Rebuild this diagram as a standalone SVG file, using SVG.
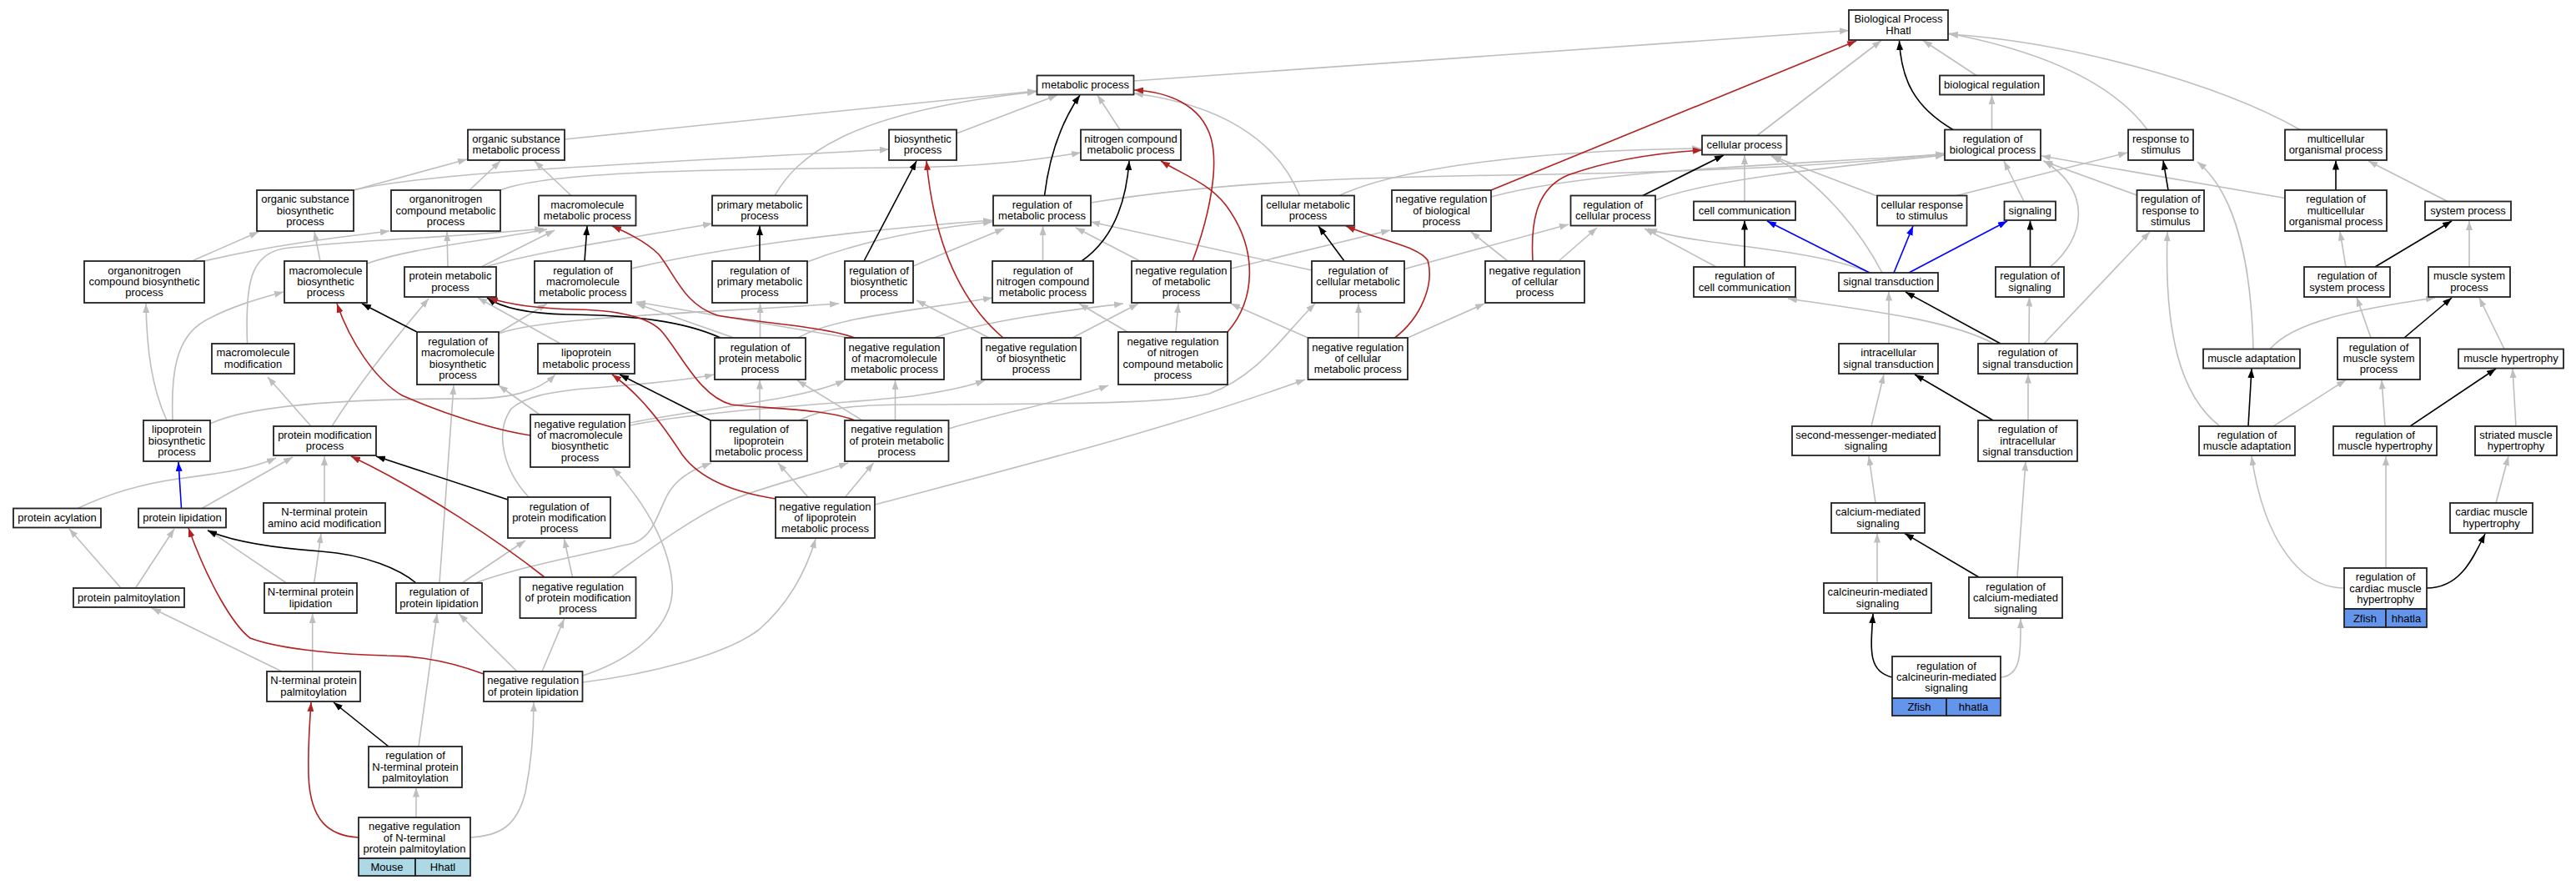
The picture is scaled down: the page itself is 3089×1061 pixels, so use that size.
<svg xmlns="http://www.w3.org/2000/svg" width="3089" height="1061" viewBox="0 0 3089 1061">
<style>
.bg{fill:#fff}
.e{fill:none;stroke-width:1.6}
.g{stroke:#bebebe;marker-end:url(#ag)}
.k{stroke:#000;marker-end:url(#ak)}
.r{stroke:#b22222;marker-end:url(#ar)}
.b{stroke:#0000ff;marker-end:url(#ab)}
.n rect{fill:#fff;stroke:#222;stroke-width:1.8}
.n rect.m{fill:#add8e6}
.n rect.z{fill:#6495ed}
text{font-family:"Liberation Sans",Arial,sans-serif;font-size:13px;text-anchor:middle;fill:#000}
</style>
<defs>
<marker id="ag" viewBox="0 0 11 8" refX="11" refY="4" markerWidth="11" markerHeight="8" markerUnits="userSpaceOnUse" orient="auto"><path d="M0,0L11,4L0,8z" fill="#bebebe"/></marker>
<marker id="ak" viewBox="0 0 11 8" refX="11" refY="4" markerWidth="11" markerHeight="8" markerUnits="userSpaceOnUse" orient="auto"><path d="M0,0L11,4L0,8z" fill="#000"/></marker>
<marker id="ar" viewBox="0 0 11 8" refX="11" refY="4" markerWidth="11" markerHeight="8" markerUnits="userSpaceOnUse" orient="auto"><path d="M0,0L11,4L0,8z" fill="#b22222"/></marker>
<marker id="ab" viewBox="0 0 11 8" refX="11" refY="4" markerWidth="11" markerHeight="8" markerUnits="userSpaceOnUse" orient="auto"><path d="M0,0L11,4L0,8z" fill="#0000ff"/></marker>
</defs>
<rect class="bg" x="0" y="0" width="3089" height="1061"/>
<g id="connectors">
<path class="e g" d="M1359.5,97 L2217,36.5"/>
<path class="e g" d="M2107,162.5 L2256,48.5"/>
<path class="e g" d="M2370,90.5 L2306,48.5"/>
<path class="e g" d="M2575,155.5 C2530,95 2440,60 2337,40"/>
<path class="e g" d="M2758,155.5 C2660,100 2480,50 2337,41"/>
<path class="e g" d="M2388.5,155.5 L2388.5,114"/>
<path class="e g" d="M677,167 L1243,109"/>
<path class="e g" d="M929,234.5 C955,190 1010,135 1243,110"/>
<path class="e g" d="M1147,160 L1268,114"/>
<path class="e g" d="M1343,155.5 L1316,114"/>
<path class="e g" d="M1558.5,234.5 C1530,165 1460,125 1360,112"/>
<path class="e g" d="M424,228 L560,191"/>
<path class="e g" d="M563,228 L600,193"/>
<path class="e g" d="M685,234.5 L641,193"/>
<path class="e g" d="M424,228 C520,205 800,195 1066,179"/>
<path class="e g" d="M600,228 C650,208 800,203 1080,201 C1180,200 1240,192 1296,183"/>
<path class="e g" d="M1606,234.5 C1680,200 1850,180 2040,178"/>
<path class="e g" d="M2092,241.5 L2092,186"/>
<path class="e g" d="M2251,235 L2125,187"/>
<path class="e g" d="M2257,327 C2230,275 2180,215 2124,187"/>
<path class="e g" d="M1308,243 C1450,220 1600,213 1800,210 C2000,207 2200,200 2332,184"/>
<path class="e g" d="M1788,236 C1900,205 2100,200 2332,185"/>
<path class="e g" d="M1985,240 C2050,215 2200,200 2332,186"/>
<path class="e g" d="M2427,241.5 L2403,193"/>
<path class="e g" d="M2458.5,320 C2500,285 2510,230 2451,193"/>
<path class="e g" d="M2562.5,234 L2450,193"/>
<path class="e g" d="M2740,237.5 L2448,187"/>
<path class="e g" d="M2346,234.5 L2551,183"/>
<path class="e g" d="M2702,418.5 C2700,330 2685,235 2635,194"/>
<path class="e g" d="M2935,241.5 L2840,193"/>
<path class="e g" d="M2961,320 L2961,265"/>
<path class="e g" d="M2813,320 L2806,277.5"/>
<path class="e g" d="M2843,405 L2826,356.5"/>
<path class="e g" d="M2722,418.5 C2750,385 2830,370 2920,357"/>
<path class="e g" d="M3003,418.5 L2973,357"/>
<path class="e g" d="M2726,511 L2813,455.5"/>
<path class="e g" d="M2860,511 L2856,455.5"/>
<path class="e g" d="M3017,511 L3013,442"/>
<path class="e g" d="M2662,511 C2615,475 2595,400 2599,278"/>
<path class="e g" d="M2811,705 C2760,705 2715,650 2700,547"/>
<path class="e g" d="M2861,681 L2861,547"/>
<path class="e g" d="M2993,603 L3008,547"/>
<path class="e g" d="M2242,327 C2170,296 2030,295 1976,274"/>
<path class="e g" d="M2058,320 L1972,274"/>
<path class="e g" d="M2265,412 L2265,349.5"/>
<path class="e g" d="M2433,412 L2433.5,356.5"/>
<path class="e g" d="M2391,412 C2340,385 2260,375 2144,358"/>
<path class="e g" d="M2451,412 L2578,278"/>
<path class="e g" d="M2244,511 L2259,449"/>
<path class="e g" d="M2432,504 L2432,448.5"/>
<path class="e g" d="M2249,603 L2241,547"/>
<path class="e g" d="M2419,692 L2429,553.5"/>
<path class="e g" d="M2251,699 L2251,639.5"/>
<path class="e g" d="M2399,812 C2425,810 2423,780 2423,742"/>
<path class="e g" d="M230,313 L310,278"/>
<path class="e g" d="M245,313 C320,295 400,285 467,277"/>
<path class="e g" d="M384,313 L377,278"/>
<path class="e g" d="M440,316 C490,298 560,292 656,275"/>
<path class="e g" d="M296.5,412 C294,340 300,305 340,298 C420,288 540,285 652,274"/>
<path class="e g" d="M537,320 L536,278"/>
<path class="e g" d="M577,320 L665,276"/>
<path class="e g" d="M582,320 C650,300 760,285 854,268"/>
<path class="e g" d="M757,322 C850,300 1000,278 1190,264"/>
<path class="e g" d="M968,314 C1030,290 1100,275 1190,266"/>
<path class="e g" d="M1095,319 L1204,274"/>
<path class="e g" d="M1250.5,313 L1250.5,271"/>
<path class="e g" d="M1367,313 L1290,273"/>
<path class="e g" d="M1476,322 L1667,276"/>
<path class="e g" d="M1573,324 L1308,266"/>
<path class="e g" d="M1684,322.5 L1881,269"/>
<path class="e g" d="M1808,313 L1764,278"/>
<path class="e g" d="M1869,313 L1915,273"/>
<path class="e g" d="M598,399 L656,364"/>
<path class="e g" d="M598,400 C650,380 850,375 1006,364"/>
<path class="e g" d="M672,412 L573,357"/>
<path class="e g" d="M880,405 L763,364"/>
<path class="e g" d="M911.5,405 L911.5,364"/>
<path class="e g" d="M957,405 C1000,380 1100,372 1190,357"/>
<path class="e g" d="M1018,405 L763,362"/>
<path class="e g" d="M1120,405 C1200,380 1300,370 1347,364"/>
<path class="e g" d="M1186,405 L1099,360"/>
<path class="e g" d="M1286,405 L1365,364"/>
<path class="e g" d="M1352,398 L1294,364"/>
<path class="e g" d="M1410,398 L1413,364"/>
<path class="e g" d="M1568.5,405 L1476,364"/>
<path class="e g" d="M1629,405 L1629,364"/>
<path class="e g" d="M1688,405 L1780,364"/>
<path class="e g" d="M200,504 C182,465 176,420 175,364"/>
<path class="e g" d="M207,504 C205,450 210,405 245,385 C275,368 310,358 340,350"/>
<path class="e g" d="M252,508 C300,485 420,478 560,478 C610,478 645,470 666,449"/>
<path class="e g" d="M373,511 L321,452"/>
<path class="e g" d="M398,511 C430,460 470,410 514,358"/>
<path class="e g" d="M647,497 L598,462"/>
<path class="e g" d="M755,507 C850,488 960,480 1013,456"/>
<path class="e g" d="M755,510 C850,490 1050,482 1100,474 C1140,468 1165,462 1181,456"/>
<path class="e g" d="M911,504 L911,455.5"/>
<path class="e g" d="M958,504 C990,488 1030,485 1100,485 C1250,484 1400,485 1450,472 C1510,450 1540,400 1577,364"/>
<path class="e g" d="M1034,504 L956,456"/>
<path class="e g" d="M1073.5,504 L1073.5,456"/>
<path class="e g" d="M1137.5,514 C1200,495 1280,480 1329,462"/>
<path class="e g" d="M93,609.5 C130,592 170,580 214,574 C260,568 300,563 331,549"/>
<path class="e g" d="M242,609.5 L351,548"/>
<path class="e g" d="M389,603 L389,547"/>
<path class="e g" d="M634,596 C605,565 592,520 613,490 C630,475 660,470 700,466 C780,460 830,455 856,449"/>
<path class="e g" d="M969,596 L933,555"/>
<path class="e g" d="M1013.5,596 L1047.5,555"/>
<path class="e g" d="M1049,605 C1200,565 1400,515 1565,455"/>
<path class="e g" d="M145,705 L83,634"/>
<path class="e g" d="M162.5,705 L209,634"/>
<path class="e g" d="M343.5,699 L249,635"/>
<path class="e g" d="M376.7,699 L385,640"/>
<path class="e g" d="M554,699 L630,648"/>
<path class="e g" d="M527,699 L544,462"/>
<path class="e g" d="M570,699 C620,680 700,665 760,651 C790,640 790,600 810,580 C825,565 840,560 853,555"/>
<path class="e g" d="M686.5,692 L676.5,646"/>
<path class="e g" d="M733,692 C790,650 840,615 881,598 C920,582 980,568 1017,555"/>
<path class="e g" d="M338,805 L182,729"/>
<path class="e g" d="M374.7,805 L374.7,736"/>
<path class="e g" d="M620,805 L550.5,736"/>
<path class="e g" d="M650,805 L676.5,742"/>
<path class="e g" d="M698.5,810 C760,790 810,750 806,700 C803,660 780,610 735,561"/>
<path class="e g" d="M698.5,818 C780,808 870,785 910,755 C950,720 968,680 978,646"/>
<path class="e g" d="M502,895 L524,736"/>
<path class="e g" d="M499,980 L499,944.5"/>
<path class="e g" d="M564,1004 C600,1002 620,990 630,950 C638,910 640,870 640,842"/>
<path class="e k" d="M2342,155.5 C2295,128 2280,95 2277.5,49"/>
<path class="e k" d="M1252.5,234.5 C1258,190 1270,150 1295,114"/>
<path class="e k" d="M1297,313 C1330,290 1350,250 1354,193"/>
<path class="e k" d="M1036,313 L1099,193"/>
<path class="e k" d="M1970,234.5 L2067,186"/>
<path class="e k" d="M2600,228 L2594,192.5"/>
<path class="e k" d="M2801,228 L2801,192.5"/>
<path class="e k" d="M2848,320 L2940,265"/>
<path class="e k" d="M2883,405 L2940,357"/>
<path class="e k" d="M2696,511 L2700,442"/>
<path class="e k" d="M2890,511 L2993,442"/>
<path class="e k" d="M2910,705 C2950,705 2965,670 2980,640"/>
<path class="e k" d="M2092,320 L2092,264.5"/>
<path class="e k" d="M2434.5,320 L2434.5,264.5"/>
<path class="e k" d="M2399,412 L2285,350"/>
<path class="e k" d="M2390,504 L2296,449"/>
<path class="e k" d="M2373,692 L2284,639.5"/>
<path class="e k" d="M2269,812 C2240,805 2243,780 2246,736"/>
<path class="e k" d="M701,313 L704,271"/>
<path class="e k" d="M911,313 L911,271"/>
<path class="e k" d="M1612,313 L1581,271"/>
<path class="e k" d="M500,398 L434,364"/>
<path class="e k" d="M864,405 C820,385 760,378 680,377 C630,376 600,368 584,357"/>
<path class="e k" d="M852,504 L743,449"/>
<path class="e k" d="M609,599 L451,547"/>
<path class="e k" d="M499,699 C480,683 440,665 385,661 C330,657 280,650 249,636"/>
<path class="e k" d="M466,895 L400,842"/>
<path class="e r" d="M1788,228 L2226,49"/>
<path class="e r" d="M1430,313 C1450,260 1462,200 1452,165 C1440,125 1400,110 1360,108"/>
<path class="e r" d="M1203,405 C1150,360 1120,290 1111,193"/>
<path class="e r" d="M1472,398 C1505,360 1510,300 1470,246 C1450,220 1420,210 1392,193"/>
<path class="e r" d="M1838,313 C1835,260 1845,225 1880,210 C1930,192 1990,183 2041,180"/>
<path class="e r" d="M1672.5,405 C1705,380 1720,340 1712,312 C1700,295 1660,290 1614,271"/>
<path class="e r" d="M1025,405 C990,392 920,388 860,378 C820,365 810,330 790,305 C775,290 755,280 734,271"/>
<path class="e r" d="M636,522 C590,515 530,495 482,474 C450,455 420,410 404,364"/>
<path class="e r" d="M1025,504 C990,490 920,490 877,485 C840,475 820,430 795,399 C780,380 740,372 691,371 C650,370 610,365 586,357"/>
<path class="e r" d="M930,598 C880,590 840,575 818,545 C795,510 770,475 734,449"/>
<path class="e r" d="M653,692 C600,650 510,590 421,547"/>
<path class="e r" d="M580,808 C540,793 500,786 464,786 C420,785 340,780 300,765 C280,750 250,700 226,633"/>
<path class="e r" d="M430,1004 C395,1002 372,985 370,930 C369,890 372,860 373,842"/>
<path class="e b" d="M217.5,609.5 L214,554"/>
<path class="e b" d="M2242,327 L2119,265"/>
<path class="e b" d="M2271,327 L2294,271"/>
<path class="e b" d="M2289,327 L2407,265"/>
</g>
<g id="n1" class="n"><rect x="2217" y="12" width="119" height="36"/><text x="2276.5" y="27.4"><tspan x="2276.5">Biological Process</tspan><tspan x="2276.5" dy="13.3">Hhatl</tspan></text></g>
<g id="n2" class="n"><rect x="1243.5" y="90.5" width="116" height="23"/><text x="1301.5" y="106">metabolic process</text></g>
<g id="n3" class="n"><rect x="2326" y="90.5" width="125" height="23"/><text x="2388.5" y="106">biological regulation</text></g>
<g id="n4" class="n"><rect x="561" y="155.5" width="116" height="36.5"/><text y="171.1"><tspan x="619">organic substance</tspan><tspan x="619" dy="13.3">metabolic process</tspan></text></g>
<g id="n5" class="n"><rect x="1066" y="155.5" width="81" height="36.5"/><text y="171.1"><tspan x="1106.5">biosynthetic</tspan><tspan x="1106.5" dy="13.3">process</tspan></text></g>
<g id="n6" class="n"><rect x="1296" y="155.5" width="120" height="36.5"/><text y="171.1"><tspan x="1356">nitrogen compound</tspan><tspan x="1356" dy="13.3">metabolic process</tspan></text></g>
<g id="n7" class="n"><rect x="2041" y="162.5" width="101.5" height="23"/><text x="2091.75" y="178">cellular process</text></g>
<g id="n8" class="n"><rect x="2332" y="155.5" width="115" height="36.5"/><text y="171.1"><tspan x="2389.5">regulation of</tspan><tspan x="2389.5" dy="13.3">biological process</tspan></text></g>
<g id="n9" class="n"><rect x="2552" y="155.5" width="78" height="36.5"/><text y="171.1"><tspan x="2591">response to</tspan><tspan x="2591" dy="13.3">stimulus</tspan></text></g>
<g id="n10" class="n"><rect x="2740" y="155.5" width="122" height="36.5"/><text y="171.1"><tspan x="2801">multicellular</tspan><tspan x="2801" dy="13.3">organismal process</tspan></text></g>
<g id="n11" class="n"><rect x="308" y="228" width="116" height="49"/><text y="243.2"><tspan x="366">organic substance</tspan><tspan x="366" dy="13.3">biosynthetic</tspan><tspan x="366" dy="13.3">process</tspan></text></g>
<g id="n12" class="n"><rect x="469" y="228" width="131" height="49"/><text y="243.2"><tspan x="534.5">organonitrogen</tspan><tspan x="534.5" dy="13.3">compound metabolic</tspan><tspan x="534.5" dy="13.3">process</tspan></text></g>
<g id="n13" class="n"><rect x="646" y="234.5" width="116.5" height="36"/><text y="249.9"><tspan x="704.25">macromolecule</tspan><tspan x="704.25" dy="13.3">metabolic process</tspan></text></g>
<g id="n14" class="n"><rect x="854" y="234.5" width="114" height="36"/><text y="249.9"><tspan x="911">primary metabolic</tspan><tspan x="911" dy="13.3">process</tspan></text></g>
<g id="n15" class="n"><rect x="1191" y="234.5" width="117" height="36"/><text y="249.9"><tspan x="1249.5">regulation of</tspan><tspan x="1249.5" dy="13.3">metabolic process</tspan></text></g>
<g id="n16" class="n"><rect x="1513" y="234.5" width="111" height="36"/><text y="249.9"><tspan x="1568.5">cellular metabolic</tspan><tspan x="1568.5" dy="13.3">process</tspan></text></g>
<g id="n17" class="n"><rect x="1669" y="228" width="119" height="49"/><text y="243.2"><tspan x="1728.5">negative regulation</tspan><tspan x="1728.5" dy="13.3">of biological</tspan><tspan x="1728.5" dy="13.3">process</tspan></text></g>
<g id="n18" class="n"><rect x="1883.5" y="234.5" width="101.5" height="36"/><text y="249.9"><tspan x="1934.25">regulation of</tspan><tspan x="1934.25" dy="13.3">cellular process</tspan></text></g>
<g id="n19" class="n"><rect x="2031" y="241.5" width="122" height="22.5"/><text x="2092" y="256.5">cell communication</text></g>
<g id="n20" class="n"><rect x="2251" y="234.5" width="107.5" height="36"/><text y="249.9"><tspan x="2304.75">cellular response</tspan><tspan x="2304.75" dy="13.3">to stimulus</tspan></text></g>
<g id="n21" class="n"><rect x="2403.5" y="241.5" width="61.5" height="22.5"/><text x="2434.25" y="256.5">signaling</text></g>
<g id="n22" class="n"><rect x="2562.5" y="228" width="80.5" height="49"/><text y="243.2"><tspan x="2602.75">regulation of</tspan><tspan x="2602.75" dy="13.3">response to</tspan><tspan x="2602.75" dy="13.3">stimulus</tspan></text></g>
<g id="n23" class="n"><rect x="2740" y="228" width="122" height="49"/><text y="243.2"><tspan x="2801">regulation of</tspan><tspan x="2801" dy="13.3">multicellular</tspan><tspan x="2801" dy="13.3">organismal process</tspan></text></g>
<g id="n24" class="n"><rect x="2908" y="241.5" width="103" height="22.5"/><text x="2959.5" y="256.5">system process</text></g>
<g id="n25" class="n"><rect x="101" y="313" width="144" height="50"/><text y="328.7"><tspan x="173">organonitrogen</tspan><tspan x="173" dy="13.3">compound biosynthetic</tspan><tspan x="173" dy="13.3">process</tspan></text></g>
<g id="n26" class="n"><rect x="341" y="313" width="99" height="50"/><text y="328.7"><tspan x="390.5">macromolecule</tspan><tspan x="390.5" dy="13.3">biosynthetic</tspan><tspan x="390.5" dy="13.3">process</tspan></text></g>
<g id="n27" class="n"><rect x="485" y="320" width="110" height="36"/><text y="335.4"><tspan x="540">protein metabolic</tspan><tspan x="540" dy="13.3">process</tspan></text></g>
<g id="n28" class="n"><rect x="641" y="313" width="116" height="50"/><text y="328.7"><tspan x="699">regulation of</tspan><tspan x="699" dy="13.3">macromolecule</tspan><tspan x="699" dy="13.3">metabolic process</tspan></text></g>
<g id="n29" class="n"><rect x="854" y="313" width="114" height="50"/><text y="328.7"><tspan x="911">regulation of</tspan><tspan x="911" dy="13.3">primary metabolic</tspan><tspan x="911" dy="13.3">process</tspan></text></g>
<g id="n30" class="n"><rect x="1013" y="313" width="82" height="50"/><text y="328.7"><tspan x="1054">regulation of</tspan><tspan x="1054" dy="13.3">biosynthetic</tspan><tspan x="1054" dy="13.3">process</tspan></text></g>
<g id="n31" class="n"><rect x="1190" y="313" width="121" height="50"/><text y="328.7"><tspan x="1250.5">regulation of</tspan><tspan x="1250.5" dy="13.3">nitrogen compound</tspan><tspan x="1250.5" dy="13.3">metabolic process</tspan></text></g>
<g id="n32" class="n"><rect x="1357" y="313" width="119" height="50"/><text y="328.7"><tspan x="1416.5">negative regulation</tspan><tspan x="1416.5" dy="13.3">of metabolic</tspan><tspan x="1416.5" dy="13.3">process</tspan></text></g>
<g id="n33" class="n"><rect x="1573" y="313" width="111" height="50"/><text y="328.7"><tspan x="1628.5">regulation of</tspan><tspan x="1628.5" dy="13.3">cellular metabolic</tspan><tspan x="1628.5" dy="13.3">process</tspan></text></g>
<g id="n34" class="n"><rect x="1781" y="313" width="119" height="50"/><text y="328.7"><tspan x="1840.5">negative regulation</tspan><tspan x="1840.5" dy="13.3">of cellular</tspan><tspan x="1840.5" dy="13.3">process</tspan></text></g>
<g id="n35" class="n"><rect x="2031" y="320" width="122" height="36"/><text y="335.4"><tspan x="2092">regulation of</tspan><tspan x="2092" dy="13.3">cell communication</tspan></text></g>
<g id="n36" class="n"><rect x="2205" y="327" width="119" height="22"/><text x="2264.5" y="342">signal transduction</text></g>
<g id="n37" class="n"><rect x="2393" y="320" width="82" height="36"/><text y="335.4"><tspan x="2434">regulation of</tspan><tspan x="2434" dy="13.3">signaling</tspan></text></g>
<g id="n38" class="n"><rect x="2763" y="320" width="103" height="36"/><text y="335.4"><tspan x="2814.5">regulation of</tspan><tspan x="2814.5" dy="13.3">system process</tspan></text></g>
<g id="n39" class="n"><rect x="2912" y="320" width="98" height="36"/><text y="335.4"><tspan x="2961">muscle system</tspan><tspan x="2961" dy="13.3">process</tspan></text></g>
<g id="n40" class="n"><rect x="254" y="412" width="99" height="36"/><text y="427.4"><tspan x="303.5">macromolecule</tspan><tspan x="303.5" dy="13.3">modification</tspan></text></g>
<g id="n41" class="n"><rect x="500" y="398" width="98" height="63"/><text y="414.1"><tspan x="549">regulation of</tspan><tspan x="549" dy="13.3">macromolecule</tspan><tspan x="549" dy="13.3">biosynthetic</tspan><tspan x="549" dy="13.3">process</tspan></text></g>
<g id="n42" class="n"><rect x="645" y="412" width="116" height="36"/><text y="427.4"><tspan x="703">lipoprotein</tspan><tspan x="703" dy="13.3">metabolic process</tspan></text></g>
<g id="n43" class="n"><rect x="857" y="405" width="109" height="50"/><text y="420.7"><tspan x="911.5">regulation of</tspan><tspan x="911.5" dy="13.3">protein metabolic</tspan><tspan x="911.5" dy="13.3">process</tspan></text></g>
<g id="n44" class="n"><rect x="1013" y="405" width="119" height="50"/><text y="420.7"><tspan x="1072.5">negative regulation</tspan><tspan x="1072.5" dy="13.3">of macromolecule</tspan><tspan x="1072.5" dy="13.3">metabolic process</tspan></text></g>
<g id="n45" class="n"><rect x="1177" y="405" width="119" height="50"/><text y="420.7"><tspan x="1236.5">negative regulation</tspan><tspan x="1236.5" dy="13.3">of biosynthetic</tspan><tspan x="1236.5" dy="13.3">process</tspan></text></g>
<g id="n46" class="n"><rect x="1341" y="398" width="131" height="63"/><text y="414.1"><tspan x="1406.5">negative regulation</tspan><tspan x="1406.5" dy="13.3">of nitrogen</tspan><tspan x="1406.5" dy="13.3">compound metabolic</tspan><tspan x="1406.5" dy="13.3">process</tspan></text></g>
<g id="n47" class="n"><rect x="1568.5" y="405" width="119.5" height="50"/><text y="420.7"><tspan x="1628.25">negative regulation</tspan><tspan x="1628.25" dy="13.3">of cellular</tspan><tspan x="1628.25" dy="13.3">metabolic process</tspan></text></g>
<g id="n48" class="n"><rect x="2205" y="412" width="119" height="36"/><text y="427.4"><tspan x="2264.5">intracellular</tspan><tspan x="2264.5" dy="13.3">signal transduction</tspan></text></g>
<g id="n49" class="n"><rect x="2372" y="412" width="119" height="36"/><text y="427.4"><tspan x="2431.5">regulation of</tspan><tspan x="2431.5" dy="13.3">signal transduction</tspan></text></g>
<g id="n50" class="n"><rect x="2642" y="418.5" width="116" height="23"/><text x="2700" y="434">muscle adaptation</text></g>
<g id="n51" class="n"><rect x="2803" y="405" width="99" height="50"/><text y="420.7"><tspan x="2852.5">regulation of</tspan><tspan x="2852.5" dy="13.3">muscle system</tspan><tspan x="2852.5" dy="13.3">process</tspan></text></g>
<g id="n52" class="n"><rect x="2948" y="418.5" width="126" height="23"/><text x="3011" y="434">muscle hypertrophy</text></g>
<g id="n53" class="n"><rect x="172" y="504" width="80" height="49"/><text y="519.2"><tspan x="212">lipoprotein</tspan><tspan x="212" dy="13.3">biosynthetic</tspan><tspan x="212" dy="13.3">process</tspan></text></g>
<g id="n54" class="n"><rect x="328" y="511" width="123" height="35"/><text y="525.9"><tspan x="389.5">protein modification</tspan><tspan x="389.5" dy="13.3">process</tspan></text></g>
<g id="n55" class="n"><rect x="636" y="497" width="119" height="63"/><text y="512.6"><tspan x="695.5">negative regulation</tspan><tspan x="695.5" dy="13.3">of macromolecule</tspan><tspan x="695.5" dy="13.3">biosynthetic</tspan><tspan x="695.5" dy="13.3">process</tspan></text></g>
<g id="n56" class="n"><rect x="852" y="504" width="116" height="49"/><text y="519.2"><tspan x="910">regulation of</tspan><tspan x="910" dy="13.3">lipoprotein</tspan><tspan x="910" dy="13.3">metabolic process</tspan></text></g>
<g id="n57" class="n"><rect x="1013" y="504" width="124.5" height="49"/><text y="519.2"><tspan x="1075.25">negative regulation</tspan><tspan x="1075.25" dy="13.3">of protein metabolic</tspan><tspan x="1075.25" dy="13.3">process</tspan></text></g>
<g id="n58" class="n"><rect x="2149" y="511" width="177" height="35"/><text y="525.9"><tspan x="2237.5">second-messenger-mediated</tspan><tspan x="2237.5" dy="13.3">signaling</tspan></text></g>
<g id="n59" class="n"><rect x="2372" y="504" width="119" height="49"/><text y="519.2"><tspan x="2431.5">regulation of</tspan><tspan x="2431.5" dy="13.3">intracellular</tspan><tspan x="2431.5" dy="13.3">signal transduction</tspan></text></g>
<g id="n60" class="n"><rect x="2637" y="511" width="115" height="35"/><text y="525.9"><tspan x="2694.5">regulation of</tspan><tspan x="2694.5" dy="13.3">muscle adaptation</tspan></text></g>
<g id="n61" class="n"><rect x="2798" y="511" width="124" height="35"/><text y="525.9"><tspan x="2860">regulation of</tspan><tspan x="2860" dy="13.3">muscle hypertrophy</tspan></text></g>
<g id="n62" class="n"><rect x="2968" y="511" width="98" height="35"/><text y="525.9"><tspan x="3017">striated muscle</tspan><tspan x="3017" dy="13.3">hypertrophy</tspan></text></g>
<g id="n63" class="n"><rect x="16" y="609.5" width="105" height="23"/><text x="68.5" y="625">protein acylation</text></g>
<g id="n64" class="n"><rect x="166" y="609.5" width="105" height="23"/><text x="218.5" y="625">protein lipidation</text></g>
<g id="n65" class="n"><rect x="316" y="603" width="146" height="36"/><text y="618.4"><tspan x="389">N-terminal protein</tspan><tspan x="389" dy="13.3">amino acid modification</tspan></text></g>
<g id="n66" class="n"><rect x="609" y="596" width="123" height="49"/><text y="611.5"><tspan x="670.5">regulation of</tspan><tspan x="670.5" dy="13.3">protein modification</tspan><tspan x="670.5" dy="13.3">process</tspan></text></g>
<g id="n67" class="n"><rect x="930" y="596" width="119" height="49"/><text y="611.5"><tspan x="989.5">negative regulation</tspan><tspan x="989.5" dy="13.3">of lipoprotein</tspan><tspan x="989.5" dy="13.3">metabolic process</tspan></text></g>
<g id="n68" class="n"><rect x="2196" y="603" width="112" height="36"/><text y="618.4"><tspan x="2252">calcium-mediated</tspan><tspan x="2252" dy="13.3">signaling</tspan></text></g>
<g id="n69" class="n"><rect x="2938" y="603" width="99" height="36"/><text y="618.4"><tspan x="2987.5">cardiac muscle</tspan><tspan x="2987.5" dy="13.3">hypertrophy</tspan></text></g>
<g id="n70" class="n"><rect x="88" y="705" width="133" height="23"/><text x="154.5" y="720.5">protein palmitoylation</text></g>
<g id="n71" class="n"><rect x="317" y="699" width="111" height="36"/><text y="714.4"><tspan x="372.5">N-terminal protein</tspan><tspan x="372.5" dy="13.3">lipidation</tspan></text></g>
<g id="n72" class="n"><rect x="475" y="699" width="103" height="36"/><text y="714.4"><tspan x="526.5">regulation of</tspan><tspan x="526.5" dy="13.3">protein lipidation</tspan></text></g>
<g id="n73" class="n"><rect x="623.5" y="692" width="139" height="49"/><text y="707.5"><tspan x="693">negative regulation</tspan><tspan x="693" dy="13.3">of protein modification</tspan><tspan x="693" dy="13.3">process</tspan></text></g>
<g id="n74" class="n"><rect x="2187" y="699" width="129" height="36"/><text y="714.4"><tspan x="2251.5">calcineurin-mediated</tspan><tspan x="2251.5" dy="13.3">signaling</tspan></text></g>
<g id="n75" class="n"><rect x="2361" y="692" width="112" height="49"/><text y="707.5"><tspan x="2417">regulation of</tspan><tspan x="2417" dy="13.3">calcium-mediated</tspan><tspan x="2417" dy="13.3">signaling</tspan></text></g>
<g id="n76" class="n"><rect x="2811" y="681" width="99" height="49"/><text y="696.2"><tspan x="2860.5">regulation of</tspan><tspan x="2860.5" dy="13.3">cardiac muscle</tspan><tspan x="2860.5" dy="13.3">hypertrophy</tspan></text><rect class="z" x="2811" y="730" width="50" height="22"/><rect class="z" x="2861" y="730" width="49" height="22"/><text x="2836" y="745.5">Zfish</text><text x="2885.5" y="745.5">hhatla</text></g>
<g id="n77" class="n"><rect x="320" y="805" width="112" height="36"/><text y="820.4"><tspan x="376">N-terminal protein</tspan><tspan x="376" dy="13.3">palmitoylation</tspan></text></g>
<g id="n78" class="n"><rect x="580" y="805" width="118.5" height="36"/><text y="820.4"><tspan x="639.25">negative regulation</tspan><tspan x="639.25" dy="13.3">of protein lipidation</tspan></text></g>
<g id="n79" class="n"><rect x="2269" y="787" width="130" height="50"/><text y="802.7"><tspan x="2334">regulation of</tspan><tspan x="2334" dy="13.3">calcineurin-mediated</tspan><tspan x="2334" dy="13.3">signaling</tspan></text><rect class="z" x="2269" y="837" width="65" height="21"/><rect class="z" x="2334" y="837" width="65" height="21"/><text x="2301.5" y="852">Zfish</text><text x="2366.5" y="852">hhatla</text></g>
<g id="n80" class="n"><rect x="442" y="895" width="112" height="49"/><text y="910.2"><tspan x="498">regulation of</tspan><tspan x="498" dy="13.3">N-terminal protein</tspan><tspan x="498" dy="13.3">palmitoylation</tspan></text></g>
<g id="n81" class="n"><rect x="430" y="980" width="134" height="49"/><text y="995.2"><tspan x="497">negative regulation</tspan><tspan x="497" dy="13.3">of N-terminal</tspan><tspan x="497" dy="13.3">protein palmitoylation</tspan></text><rect class="m" x="430" y="1029" width="68" height="21"/><rect class="m" x="498" y="1029" width="66" height="21"/><text x="464" y="1044">Mouse</text><text x="531" y="1044">Hhatl</text></g>
</svg>
